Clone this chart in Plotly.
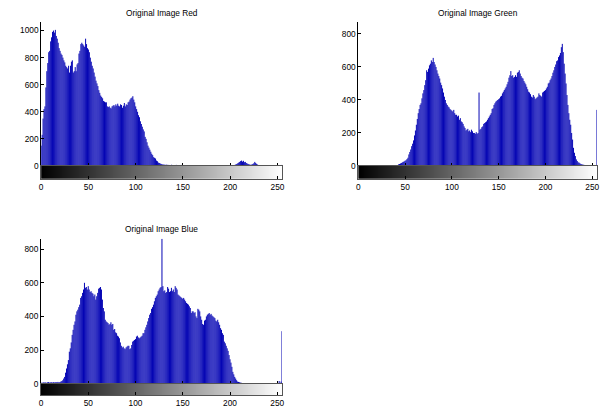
import plotly.graph_objects as go

levels = list(range(256))

red_counts = [
    150, 230, 350, 420, 440, 580, 700, 760, 840, 850, 920, 950, 990, 1000, 985, 1005,
    960, 940, 910, 870, 850, 830, 820, 800, 780, 765, 740, 730, 720, 740, 690, 740,
    770, 780, 690, 700, 730, 700, 750, 760, 830, 850, 900, 910, 900, 890, 880, 940,
    900, 870, 860, 840, 800, 770, 740, 720, 690, 660, 630, 610, 590, 560, 540, 520,
    510, 500, 480, 475, 470, 470, 440, 435, 440, 430, 425, 440, 445, 450, 440, 455,
    445, 460, 445, 440, 455, 450, 430, 445, 465, 440, 455, 450, 470, 475, 490, 500,
    505, 515, 490, 470, 440, 420, 400, 375, 360, 330, 310, 290, 270, 255, 215, 200,
    175, 150, 135, 120, 105, 90, 80, 65, 60, 55, 40, 35, 25, 22, 18, 15,
    12, 11, 10, 9, 8, 10, 7, 8, 6, 7, 9, 6, 5, 7, 6, 8,
    5, 6, 7, 5, 6, 8, 6, 5, 4, 3, 5, 4, 6, 3, 4, 5,
    3, 4, 2, 3, 5, 4, 3, 2, 4, 3, 5, 3, 2, 4, 3, 2,
    3, 4, 2, 3, 2, 4, 3, 2, 3, 2, 4, 3, 2, 3, 2, 3,
    2, 4, 3, 2, 3, 5, 4, 3, 2, 3, 4, 5, 6, 8, 12, 15,
    20, 25, 30, 36, 40, 32, 38, 28, 30, 22, 18, 15, 12, 10, 8, 12,
    15, 20, 30, 22, 15, 10, 6, 4, 3, 5, 3, 2, 4, 3, 2, 3,
    4, 3, 2, 3, 5, 3, 2, 3, 4, 2, 3, 2, 3, 4, 2, 8,
]

green_counts = [
    0, 0, 0, 0, 0, 0, 0, 0, 0, 0, 0, 0, 0, 0, 0, 0,
    0, 0, 0, 0, 0, 0, 0, 0, 0, 0, 0, 0, 0, 0, 0, 0,
    0, 0, 0, 0, 0, 0, 1, 2, 3, 4, 6, 10, 12, 15, 18, 22,
    25, 28, 32, 35, 42, 50, 70, 85, 100, 120, 135, 155, 185, 215, 250, 285,
    320, 345, 370, 380, 410, 440, 460, 490, 520, 580, 570, 590, 610, 620, 640, 630,
    655, 630, 615, 600, 580, 560, 545, 530, 505, 490, 470, 445, 420, 400, 380, 370,
    360, 355, 345, 340, 335, 330, 340, 320, 310, 310, 300, 305, 280, 290, 270, 265,
    255, 240, 230, 215, 220, 225, 210, 215, 205, 220, 210, 200, 200, 195, 205, 195,
    200, 445, 220, 225, 235, 240, 255, 260, 265, 270, 280, 290, 300, 310, 320, 345,
    350, 370, 380, 390, 395, 400, 405, 410, 420, 425, 440, 450, 460, 470, 480, 495,
    510, 535, 550, 575, 545, 550, 535, 540, 550, 540, 565, 570, 580, 560, 545, 535,
    530, 515, 505, 495, 480, 465, 450, 445, 435, 420, 415, 430, 420, 405, 410, 415,
    420, 440, 430, 425, 420, 445, 450, 455, 460, 470, 480, 500, 505, 520, 530, 545,
    565, 580, 600, 615, 635, 640, 660, 670, 685, 720, 740, 690, 620, 560, 500, 430,
    370, 320, 280, 250, 200, 160, 110, 80, 60, 40, 30, 22, 20, 15, 12, 10,
    8, 7, 6, 5, 4, 4, 3, 3, 2, 2, 2, 2, 2, 1, 2, 340,
]

blue_counts = [
    4, 6, 5, 8, 6, 7, 5, 8, 9, 6, 7, 8, 6, 9, 7, 8,
    9, 8, 10, 7, 9, 12, 15, 20, 30, 40, 65, 90, 115, 140, 190, 210,
    245, 290, 320, 350, 370, 410, 430, 440, 455, 470, 510, 520, 540, 560, 600, 570,
    575, 560, 580, 560, 545, 550, 540, 535, 520, 530, 500, 520, 540, 565, 570, 575,
    560, 500, 450, 430, 380, 370, 365, 360, 350, 355, 365, 350, 355, 320, 325, 305,
    300, 285, 280, 270, 245, 225, 215, 220, 210, 205, 215, 220, 225, 225, 205, 210,
    230, 250, 255, 260, 265, 280, 285, 275, 270, 275, 280, 285, 300, 300, 320, 335,
    350, 370, 390, 410, 420, 445, 455, 470, 490, 510, 520, 530, 550, 560, 570, 575,
    862, 580, 550, 555, 540, 545, 575, 565, 545, 550, 570, 550, 560, 545, 580, 570,
    560, 530, 525, 520, 515, 510, 505, 510, 500, 490, 480, 475, 470, 460, 450, 420,
    430, 430, 420, 425, 400, 390, 445, 440, 430, 400, 380, 355, 350, 375, 380, 400,
    410, 415, 420, 410, 415, 405, 400, 395, 390, 375, 370, 380, 365, 350, 330, 320,
    300, 290, 250, 240, 225, 210, 195, 170, 145, 125, 100, 70, 55, 40, 30, 20,
    12, 10, 8, 6, 5, 3, 2, 3, 2, 3, 2, 2, 3, 2, 3, 2,
    3, 2, 2, 3, 2, 2, 3, 2, 2, 3, 2, 2, 3, 2, 2, 3,
    2, 3, 2, 2, 3, 2, 2, 3, 2, 2, 3, 3, 15, 3, 12, 312,
]

titles = ["Original Image Red", "Original Image Green", "Original Image Blue"]
ymax = [1060, 870, 862]
yticks = [[0, 200, 400, 600, 800, 1000], [0, 200, 400, 600, 800], [0, 200, 400, 600, 800]]
xticks = [0, 50, 100, 150, 200, 250]

assert len(red_counts) == 256 and len(green_counts) == 256 and len(blue_counts) == 256

W, H = 613, 414
# panel geometry in pixels: (x0, x1, ytop, yzero, ycbar_bottom)
panels = [
    (39.5, 282.5, 22.7, 168.0, 181.0),
    (359.3, 599.8, 22.7, 168.0, 181.0),
    (39.3, 282.3, 241.7, 388.3, 400.0),
]

FONT = "Liberation Sans, Arial, sans-serif"
FS = 8.3
STEM = "#0606b4"


def stems(xs, ys):
    sx, sy = [], []
    for x, y in zip(xs, ys):
        sx += [x, x, None]
        sy += [0, y, None]
    return sx, sy


fig = go.Figure()
layout = dict(
    width=W, height=H, margin=dict(l=0, r=0, t=0, b=0),
    paper_bgcolor="white", plot_bgcolor="white", showlegend=False,
    font=dict(family=FONT, size=FS, color="#000"),
)
annotations = []
series = [red_counts, green_counts, blue_counts]
for i, (x0, x1, yt, yz, yc) in enumerate(panels):
    hx = 2 * i + 1
    cx = 2 * i + 2
    hxs = "" if hx == 1 else str(hx)
    dom_x = [x0 / W, x1 / W]
    sx, sy = stems(levels, series[i])
    fig.add_trace(go.Scatter(
        x=sx, y=sy, mode="lines", line=dict(color=STEM, width=1),
        xaxis="x" + hxs, yaxis="y" + hxs, hoverinfo="skip", connectgaps=False,
    ))
    fig.add_trace(go.Heatmap(
        x=levels, y=[0], z=[levels], zmin=0, zmax=255,
        colorscale=[[0, "black"], [1, "white"]], showscale=False,
        xaxis="x" + str(cx), yaxis="y" + str(cx), hoverinfo="skip",
    ))
    layout["xaxis" + hxs] = dict(
        domain=dom_x, range=[0, 255], anchor="y" + hxs, tickvals=xticks,
        showticklabels=False, ticks="inside", ticklen=3, tickcolor="#000",
        showline=False, showgrid=False, zeroline=False,
    )
    layout["yaxis" + hxs] = dict(
        domain=[1 - yz / H, 1 - yt / H], range=[0, ymax[i]], anchor="x" + hxs,
        tickvals=yticks[i], ticks="inside", ticklen=3, tickcolor="#000",
        showline=True, linecolor="#000", linewidth=1, showgrid=False, zeroline=False,
        tickfont=dict(size=FS, color="#000"),
    )
    layout["xaxis" + str(cx)] = dict(
        domain=dom_x, range=[0, 255], anchor="y" + str(cx), tickvals=xticks,
        ticks="inside", ticklen=3, tickcolor="#000",
        showline=True, mirror=True, linecolor="#555", linewidth=1,
        showgrid=False, zeroline=False, tickfont=dict(size=FS, color="#000"),
    )
    layout["yaxis" + str(cx)] = dict(
        domain=[1 - yc / H, 1 - yz / H], range=[-0.5, 0.5], anchor="x" + str(cx),
        showticklabels=False, ticks="", showline=True, mirror=True,
        linecolor="#555", linewidth=1, showgrid=False, zeroline=False,
    )
    annotations.append(dict(
        x=(x0 + x1) / 2 / W, y=1 - (yt - 10) / H, xref="paper", yref="paper",
        text=titles[i], showarrow=False, xanchor="center", yanchor="middle",
        font=dict(size=FS, color="#000"),
    ))

layout["annotations"] = annotations
fig.update_layout(**layout)
fig.write_html(
    "out.html",
    config={"displayModeBar": False},
    post_script="document.body.style.margin='0';document.body.style.padding='0';"
                "document.documentElement.style.overflow='hidden';",
)
